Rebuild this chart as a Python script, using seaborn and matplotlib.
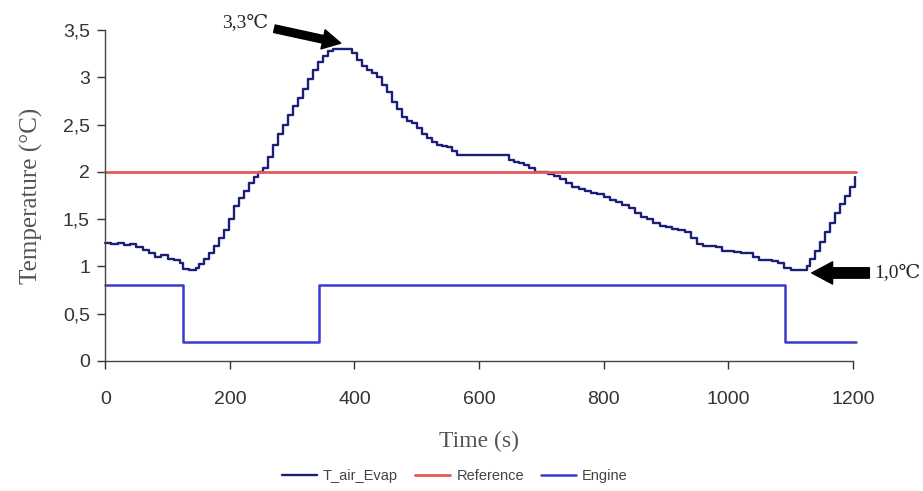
import matplotlib
matplotlib.use("Agg")
import matplotlib.pyplot as plt
import numpy as np
import pandas as pd
import seaborn as sns

# ---------------------------------------------------------------------------
# Data
# ---------------------------------------------------------------------------
time_evap = [0, 10, 20, 30, 40, 50, 60, 70, 80, 90, 100, 110, 120, 125, 135,
             145, 150, 158, 166, 174, 182, 190, 198, 206, 214, 222, 230, 238,
             246, 254, 262, 270, 278, 286, 294, 302, 310, 318, 326, 334, 342,
             350, 358, 366, 376, 386, 396, 404, 412, 420, 428, 436, 444, 452,
             460, 468, 476, 484, 492, 500, 508, 516, 524, 532, 540, 548, 556,
             564, 640, 648, 656, 664, 672, 680, 690, 700, 710, 720, 730, 740,
             750, 760, 770, 780, 790, 800, 810, 820, 830, 840, 850, 860, 870,
             880, 890, 900, 910, 920, 930, 940, 950, 960, 970, 980, 990, 1000,
             1010, 1020, 1030, 1040, 1050, 1060, 1070, 1080, 1090, 1100, 1110,
             1120, 1126, 1132, 1140, 1148, 1156, 1164, 1172, 1180, 1188, 1196,
             1204]
temp_evap = [1.25, 1.24, 1.25, 1.23, 1.24, 1.20, 1.17, 1.14, 1.10, 1.12, 1.08,
             1.07, 1.03, 0.97, 0.96, 0.98, 1.02, 1.08, 1.14, 1.22, 1.30, 1.38,
             1.50, 1.64, 1.72, 1.80, 1.88, 1.94, 2.00, 2.04, 2.16, 2.28, 2.40,
             2.50, 2.60, 2.70, 2.78, 2.88, 2.98, 3.08, 3.16, 3.22, 3.28, 3.30,
             3.30, 3.30, 3.26, 3.18, 3.12, 3.08, 3.04, 3.00, 2.92, 2.84, 2.74,
             2.66, 2.58, 2.54, 2.52, 2.46, 2.40, 2.36, 2.32, 2.28, 2.27, 2.26,
             2.22, 2.18, 2.18, 2.12, 2.10, 2.09, 2.07, 2.04, 2.00, 2.00, 1.98,
             1.96, 1.92, 1.88, 1.84, 1.82, 1.80, 1.78, 1.76, 1.73, 1.70, 1.68,
             1.65, 1.62, 1.56, 1.52, 1.50, 1.46, 1.43, 1.42, 1.40, 1.38, 1.36,
             1.30, 1.24, 1.22, 1.22, 1.20, 1.16, 1.16, 1.15, 1.14, 1.14, 1.10,
             1.07, 1.07, 1.06, 1.03, 0.98, 0.96, 0.96, 0.96, 1.00, 1.08, 1.16,
             1.26, 1.36, 1.46, 1.56, 1.66, 1.74, 1.84, 1.94]

time_ref = [0, 1205]
temp_ref = [2.0, 2.0]

time_engine = [0, 125, 343, 1091, 1205]
state_engine = [0.8, 0.2, 0.8, 0.2, 0.2]

yticks = [0, 0.5, 1, 1.5, 2, 2.5, 3, 3.5]
ytick_labels = ["0", "0,5", "1", "1,5", "2", "2,5", "3", "3,5"]
xticks = [0, 200, 400, 600, 800, 1000, 1200]

EVAP_COLOR = "#1c1f78"
REF_COLOR = "#e8585a"
ENGINE_COLOR = "#3a3ad0"

# ---------------------------------------------------------------------------
# Style
# ---------------------------------------------------------------------------
sns.set_theme(style="ticks")
plt.rcParams["font.family"] = ["Liberation Sans", "DejaVu Sans"]

evap = pd.DataFrame({"t": time_evap, "T": temp_evap})
ref = pd.DataFrame({"t": time_ref, "T": temp_ref})
engine = pd.DataFrame({"t": time_engine, "T": state_engine})

fig = plt.figure(figsize=(9.23, 4.91), dpi=100)
ax = fig.add_axes([0.114, 0.265, 0.810, 0.674])

sns.lineplot(data=evap, x="t", y="T", ax=ax, color=EVAP_COLOR, linewidth=1.7,
             drawstyle="steps-post", estimator=None, sort=False,
             label="T_air_Evap", clip_on=False)
sns.lineplot(data=ref, x="t", y="T", ax=ax, color=REF_COLOR, linewidth=2.0,
             estimator=None, sort=False, label="Reference", clip_on=False)
sns.lineplot(data=engine, x="t", y="T", ax=ax, color=ENGINE_COLOR,
             linewidth=1.8, drawstyle="steps-post", estimator=None,
             sort=False, label="Engine", clip_on=False)

ax.set_xlim(0, 1200)
ax.set_ylim(0, 3.5)
ax.set_xticks(xticks)
ax.set_yticks(yticks)
ax.set_yticklabels(ytick_labels)
ax.tick_params(axis="both", labelsize=14, colors="#333333", length=6,
               width=1.0, direction="out")
ax.tick_params(axis="x", pad=16)
ax.tick_params(axis="y", pad=5)
sns.despine(ax=ax)
for side in ("left", "bottom"):
    ax.spines[side].set_color("#444444")
    ax.spines[side].set_linewidth(1.0)

serif = ["Liberation Serif", "DejaVu Serif"]
ax.set_xlabel("Time (s)", fontsize=17, family=serif, color="#555555",
              labelpad=16)
ax.set_ylabel("Temperature (°C)", fontsize=18, family=serif, color="#555555",
              labelpad=14)

# peak / minimum markers
ax.annotate("3,3℃", xy=(378, 3.36), xytext=(262, 3.58),
            textcoords="data", fontsize=14, family=serif, va="center",
            ha="right", annotation_clip=False,
            arrowprops=dict(arrowstyle="simple,head_length=1.3,head_width=1.4,tail_width=0.55",
                            mutation_scale=10, fc="black", ec="black",
                            shrinkA=2, shrinkB=0))
ax.annotate("1,0℃", xy=(1134, 0.93), xytext=(1234, 0.93),
            textcoords="data", fontsize=14, family=serif, va="center",
            ha="left", annotation_clip=False,
            arrowprops=dict(arrowstyle="simple,head_length=1.5,head_width=1.6,tail_width=0.75",
                            mutation_scale=10, fc="black", ec="black",
                            shrinkA=1, shrinkB=0))

handles, labels = ax.get_legend_handles_labels()
ax.get_legend().remove()
fig.legend(handles, labels, loc="center", bbox_to_anchor=(0.493, 0.03),
           ncol=3, frameon=False, fontsize=10.5, handlelength=2.4,
           columnspacing=1.2, handletextpad=0.4, labelcolor="#444444")

fig.savefig("out.png", dpi=100)
